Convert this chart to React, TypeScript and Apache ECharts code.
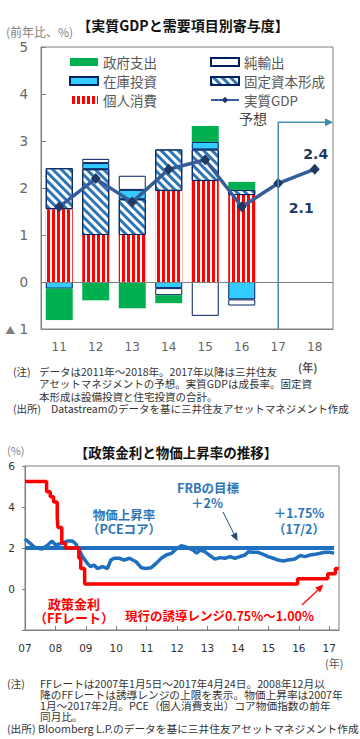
import React, { useEffect, useRef } from 'react';
import * as echarts from 'echarts';

const CJK = '"Noto Sans CJK JP", "Noto Sans", sans-serif';
const NUM = '"DejaVu Sans", Verdana, sans-serif';

// ---------- Chart 1: 実質GDPと需要項目別寄与度 ----------
const gdpYears = ['11', '12', '13', '14', '15', '16', '17', '18'];
const consumption = [1.55, 1.0, 1.0, 1.94, 2.15, 1.85, null, null];
const fixedInvestment = [0.87, 1.4, 0.76, 0.88, 0.67, 0.11, null, null];
const inventory = [-0.14, 0.13, 0.2, -0.13, 0.16, -0.37, null, null];
const netExports = [null, 0.09, 0.3, -0.15, -0.72, -0.13, null, null];
const government = [-0.67, -0.39, -0.56, -0.17, 0.34, 0.17, null, null];
const realGDP = [1.6, 2.2, 1.7, 2.4, 2.6, 1.6, 2.1, 2.4];
const forecastStart = '17';
const forecastArrowLevel = 3.4;

// ---------- Chart 2: 政策金利と物価上昇率の推移 ----------
const ffDates = [2007.0, 2007.71, 2007.83, 2007.94, 2008.06, 2008.08, 2008.21, 2008.33, 2008.77, 2008.83, 2008.96, 2015.96, 2016.95, 2017.2, 2017.31];
const ffRates = [5.25, 4.75, 4.5, 4.25, 3.5, 3.0, 2.25, 2.0, 1.5, 1.0, 0.25, 0.5, 0.75, 1.0, 1.0];
const pceDates = [
  2007.0, 2007.17, 2007.33, 2007.56, 2007.72, 2007.89, 2008.0, 2008.22, 2008.39, 2008.56,
  2008.67, 2008.78, 2008.89, 2009.05, 2009.16, 2009.27, 2009.38, 2009.55, 2009.71, 2009.82,
  2009.93, 2010.1, 2010.26, 2010.43, 2010.65, 2010.82, 2010.98, 2011.15, 2011.31, 2011.48,
  2011.64, 2011.81, 2011.97, 2012.14, 2012.36, 2012.53, 2012.64, 2012.75, 2012.91, 2013.08,
  2013.24, 2013.41, 2013.57, 2013.74, 2013.9, 2014.06, 2014.23, 2014.34, 2014.5, 2014.66,
  2014.83, 2014.99, 2015.16, 2015.32, 2015.49, 2015.65, 2015.87, 2016.04, 2016.2, 2016.37,
  2016.53, 2016.7, 2016.86, 2017.02, 2017.16,
];
const pceValues = [
  2.44, 2.23, 2.01, 1.95, 2.11, 2.34, 2.15, 2.23, 2.34, 2.34,
  2.2, 1.9, 1.58, 1.25, 1.09, 1.17, 1.0, 1.09, 1.0, 1.41,
  1.5, 1.5, 1.41, 1.5, 1.33, 1.04, 1.0, 1.04, 1.25, 1.5,
  1.66, 1.74, 1.95, 2.11, 2.01, 1.9, 1.74, 1.9, 1.82, 1.63,
  1.46, 1.53, 1.5, 1.58, 1.5, 1.58, 1.66, 1.82, 1.79, 1.79,
  1.69, 1.58, 1.5, 1.41, 1.37, 1.41, 1.46, 1.63, 1.58, 1.66,
  1.69, 1.74, 1.79, 1.79, 1.75,
];
const targetDates = [2007.0, 2017.16];
const targetValues = [2, 2];

// layout
const G1 = { left: 41, top: 47, width: 292, height: 282 };
const G2 = { left: 25, top: 466, width: 314, height: 164 };

const redDecal = { symbol: 'rect', symbolSize: 1, color: '#ffffff', dashArrayX: [2, 3], dashArrayY: [20, 0], rotation: 0 };
const hatchDecal = { symbol: 'rect', symbolSize: 1, color: '#2e75b6', dashArrayX: [3, 3], dashArrayY: [20, 0], rotation: -Math.PI / 4 };

function txt(text: string, x: number, y: number, o: any = {}) {
  const size = o.size ?? 11;
  return {
    type: 'text',
    x,
    y,
    silent: true,
    z: 100,
    style: {
      text,
      x: 0,
      y: 0,
      fill: o.color ?? '#333',
      fontSize: size,
      lineHeight: o.lh ?? size,
      fontWeight: o.bold ? 'bold' : 'normal',
      fontFamily: o.family ?? CJK,
      align: o.align ?? 'left',
      textAlign: o.align ?? 'left',
      verticalAlign: 'middle',
      textVerticalAlign: 'middle',
    },
  };
}

function arrowHead(tip: number[], from: number[], len: number, half: number, color: string) {
  const dx = tip[0] - from[0];
  const dy = tip[1] - from[1];
  const d = Math.sqrt(dx * dx + dy * dy);
  const ux = dx / d, uy = dy / d;
  const bx = tip[0] - ux * len, by = tip[1] - uy * len;
  const px = -uy * half, py = ux * half;
  return {
    type: 'polygon',
    silent: true,
    z: 100,
    shape: { points: [tip, [bx + px, by + py], [bx - px, by - py]] },
    style: { fill: color },
  };
}

function buildOption() {
  const barBase = { type: 'bar', stack: 'gdp', xAxisIndex: 0, yAxisIndex: 0, barWidth: 27 };
  return {
    animation: false,
    backgroundColor: '#ffffff',
    textStyle: { fontFamily: CJK },
    grid: [
      { ...G1, show: true, borderColor: '#808080', borderWidth: 1 },
      { ...G2, show: true, borderColor: '#7f7f7f', borderWidth: 1 },
    ],
    xAxis: [
      {
        type: 'category', gridIndex: 0, data: gdpYears,
        axisLine: { show: true, onZero: false, lineStyle: { color: '#808080' } },
        axisTick: { show: false },
        axisLabel: { color: '#666666', fontSize: 12, fontFamily: NUM, margin: 12 },
        splitLine: { show: false },
      },
      {
        type: 'value', gridIndex: 1, min: 2007, max: 2017.32, interval: 1,
        axisLine: { show: true, onZero: false, lineStyle: { color: '#7f7f7f' } },
        axisTick: { show: true, inside: true, length: 4, lineStyle: { color: '#7f7f7f' } },
        axisLabel: {
          color: '#333333', fontSize: 10.5, fontFamily: NUM, margin: 12, showMaxLabel: false,
          formatter: (v: number) => (Math.abs(v - Math.round(v)) < 1e-6 ? String(Math.round(v) % 100).padStart(2, '0') : ''),
        },
        splitLine: { show: false },
      },
    ],
    yAxis: [
      {
        type: 'value', gridIndex: 0, min: -1, max: 5, interval: 1,
        axisLine: { show: true, lineStyle: { color: '#808080' } },
        axisTick: { show: true, inside: true, length: 5, lineStyle: { color: '#808080' } },
        splitLine: { show: false },
        axisLabel: {
          color: '#666666', fontSize: 13.5, fontFamily: NUM, margin: 13,
          formatter: (v: number) => (v < 0 ? '{t|▲} ' + Math.abs(v) : String(v)),
          rich: { t: { fontSize: 10, color: '#7f7f7f', fontFamily: CJK } },
        },
      },
      {
        type: 'value', gridIndex: 1, min: -2, max: 6, interval: 2,
        axisLine: { show: true, lineStyle: { color: '#7f7f7f' } },
        axisTick: { show: true, inside: false, length: 3, lineStyle: { color: '#7f7f7f' } },
        splitLine: { show: false },
        axisLabel: {
          color: '#333333', fontSize: 10.5, fontFamily: NUM, margin: 10,
          formatter: (v: number) => (v < 0 ? '' : String(v)),
        },
      },
    ],
    legend: [
      {
        left: 64, top: 49, orient: 'vertical', itemWidth: 28, itemHeight: 8, itemGap: 3, selectedMode: false,
        textStyle: { color: '#595959', fontSize: 13.5, lineHeight: 16, fontFamily: CJK },
        data: [
          { name: '政府支出', icon: 'rect' },
          { name: '在庫投資', icon: 'rect' },
          { name: '個人消費', icon: 'rect' },
        ],
      },
      {
        left: 205, top: 49, orient: 'vertical', itemWidth: 28, itemHeight: 8, itemGap: 3, selectedMode: false,
        textStyle: { color: '#595959', fontSize: 13.5, lineHeight: 16, fontFamily: CJK },
        data: [
          { name: '純輸出', icon: 'rect' },
          { name: '固定資本形成', icon: 'rect' },
          { name: '実質GDP' },
        ],
      },
    ],
    series: [
      {
        ...barBase, name: '個人消費', data: consumption,
        itemStyle: { color: '#ff0000', decal: redDecal },
        markLine: {
          silent: true, symbol: ['none', 'none'], label: { show: false },
          lineStyle: { color: '#808080', width: 1, type: 'solid' },
          data: [{ yAxis: 0 }],
        },
      },
      {
        ...barBase, name: '固定資本形成', data: fixedInvestment,
        itemStyle: { color: '#ffffff', borderColor: '#002060', borderWidth: 1, decal: hatchDecal },
      },
      {
        ...barBase, name: '在庫投資', data: inventory,
        itemStyle: { color: '#33ccff', borderColor: '#002060', borderWidth: 1 },
      },
      {
        ...barBase, name: '純輸出', data: netExports,
        itemStyle: { color: '#ffffff', borderColor: '#002060', borderWidth: 1 },
      },
      {
        ...barBase, name: '政府支出', data: government,
        itemStyle: { color: '#00b050' },
      },
      {
        name: '実質GDP', type: 'line', xAxisIndex: 0, yAxisIndex: 0, z: 10,
        symbol: 'diamond', symbolSize: [10, 11],
        lineStyle: { color: '#355d9a', width: 3.5 },
        itemStyle: { color: '#1f3864' },
        label: {
          show: false, fontSize: 14, fontWeight: 'bold', color: '#1f3864', fontFamily: NUM,
          formatter: (p: any) => Number(p.value).toFixed(1),
        },
        data: realGDP.map((v, i) => {
          if (i === 6) return { value: v, label: { show: true, position: 'bottom', offset: [23, 7] } };
          if (i === 7) return { value: v, label: { show: true, position: 'top', offset: [1, 2] } };
          return v;
        }),
      },
      {
        name: 'PCEコア', type: 'line', xAxisIndex: 1, yAxisIndex: 1, symbol: 'none', z: 3,
        lineStyle: { color: '#1f6fbf', width: 3.5 },
        data: pceDates.map((d, i) => [d, pceValues[i]]),
      },
      {
        name: 'FRB目標', type: 'line', xAxisIndex: 1, yAxisIndex: 1, symbol: 'none', z: 4,
        lineStyle: { color: '#2070c0', width: 4 },
        data: targetDates.map((d, i) => [d, targetValues[i]]),
      },
      {
        name: 'FFレート', type: 'line', xAxisIndex: 1, yAxisIndex: 1, symbol: 'none', z: 5, step: 'end',
        lineStyle: { color: '#ff0000', width: 3.5 },
        data: ffDates.map((d, i) => [d, ffRates[i]]),
      },
    ],
  };
}

function buildGraphics(chart: any) {
  const idx = gdpYears.indexOf(forecastStart);
  const top = chart.convertToPixel({ xAxisIndex: 0, yAxisIndex: 0 }, [idx, forecastArrowLevel]);
  const bot = chart.convertToPixel({ xAxisIndex: 0, yAxisIndex: 0 }, [idx, -1]);
  const xr = G1.left + G1.width;
  const arrowColor = '#4a8cb0';
  const blue = '#2e75b6';
  const red = '#ff0000';
  const note = '#333333';
  return [
    // chart 1 texts
    txt('【実質GDPと需要項目別寄与度】', 183, 25, { size: 14, bold: true, color: '#111', align: 'center' }),
    txt('(前年比、%)', 6, 31, { size: 12, color: '#7f7f7f' }),
    txt('予想', 253, 118, { size: 14, color: '#404040', align: 'center' }),
    {
      type: 'polyline', silent: true, z: 90,
      shape: { points: [[top[0], bot[1]], [top[0], top[1]], [xr - 6, top[1]]] },
      style: { stroke: arrowColor, lineWidth: 1.5, fill: null },
    },
    arrowHead([xr, top[1]], [top[0], top[1]], 8, 4, '#3b8ea5'),
    txt('(年)', 298, 367, { size: 11, bold: true, color: '#595959' }),
    txt('(注)', 13, 371, { size: 10.5, lh: 10, color: note }),
    txt('データは2011年～2018年。2017年以降は三井住友', 39, 371, { size: 10.5, lh: 10, color: note }),
    txt('アセットマネジメントの予想。実質GDPは成長率。固定資', 39, 383.5, { size: 10.5, lh: 10, color: note }),
    txt('本形成は設備投資と住宅投資の合計。', 39, 396, { size: 10.5, lh: 10, color: note }),
    txt('(出所)', 13, 408.5, { size: 10.5, lh: 10, color: note }),
    txt('Datastreamのデータを基に三井住友アセットマネジメント作成', 51, 408.5, { size: 10.5, lh: 10, color: note }),
    // chart 2 texts
    txt('【政策金利と物価上昇率の推移】', 176, 452, { size: 13.5, bold: true, color: '#111', align: 'center' }),
    txt('(%)', 7, 450, { size: 11, color: '#7f7f7f' }),
    txt('物価上昇率', 124, 514.5, { size: 12.5, lh: 11, bold: true, color: blue, align: 'center' }),
    txt('（PCEコア）', 124, 528, { size: 12.5, lh: 11, bold: true, color: blue, align: 'center' }),
    txt('FRBの目標', 208, 487, { size: 12.5, lh: 11, bold: true, color: blue, align: 'center' }),
    txt('＋2%', 207, 502, { size: 12.5, lh: 11, bold: true, color: blue, align: 'center' }),
    txt('＋1.75%', 299, 512, { size: 12.5, lh: 11, bold: true, color: blue, align: 'center' }),
    txt('（17/2）', 299, 528, { size: 12.5, lh: 11, bold: true, color: blue, align: 'center' }),
    {
      type: 'line', silent: true, z: 90,
      shape: { x1: 223, y1: 512, x2: 235.5, y2: 537 },
      style: { stroke: '#1f4e79', lineWidth: 1 },
    },
    arrowHead([237.5, 541], [223, 512], 8, 3.5, '#1f4e79'),
    txt('政策金利', 74, 603, { size: 13, lh: 12, bold: true, color: red, align: 'center' }),
    txt('（FFレート）', 74, 617, { size: 13, lh: 12, bold: true, color: red, align: 'center' }),
    txt('現行の誘導レンジ0.75%～1.00%', 125, 615, { size: 12.5, lh: 12, bold: true, color: red }),
    {
      type: 'line', silent: true, z: 90,
      shape: { x1: 302, y1: 605, x2: 318, y2: 590 },
      style: { stroke: red, lineWidth: 1.2 },
    },
    arrowHead([323.5, 584.5], [302, 605], 8, 3.5, red),
    txt('(年)', 325, 663, { size: 11, color: '#595959' }),
    txt('(注)', 7, 683, { size: 10.7, lh: 10, color: note }),
    txt('FFレートは2007年1月5日～2017年4月24日。2008年12月以', 40, 683, { size: 10.7, lh: 10, color: note }),
    txt('降のFFレートは誘導レンジの上限を表示。物価上昇率は2007年', 40, 694, { size: 10.7, lh: 10, color: note }),
    txt('1月～2017年2月。PCE（個人消費支出）コア物価指数の前年', 40, 705, { size: 10.7, lh: 10, color: note }),
    txt('同月比。', 40, 716.5, { size: 10.7, lh: 10, color: note }),
    txt('(出所) Bloomberg L.P.のデータを基に三井住友アセットマネジメント作成', 7, 728, { size: 10.7, lh: 10, color: note }),
  ];
}

export default function App() {
  const ref = useRef<HTMLDivElement>(null);
  useEffect(() => {
    if (!ref.current) return;
    const chart = echarts.init(ref.current, null, { renderer: 'svg' });
    chart.setOption(buildOption() as any);
    chart.setOption({ graphic: buildGraphics(chart) } as any);
    return () => {
      chart.dispose();
    };
  }, []);
  return (
    <div
      ref={ref}
      style={{ position: 'fixed', left: 0, top: 0, width: 360, height: 739, background: '#fff' }}
    />
  );
}
